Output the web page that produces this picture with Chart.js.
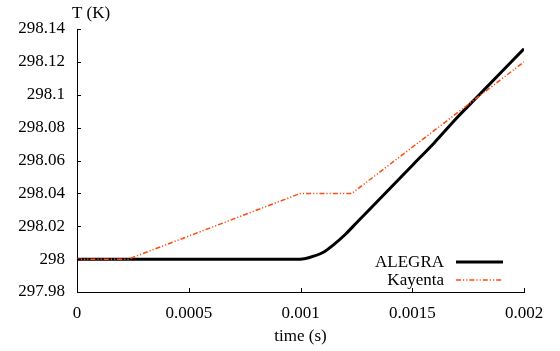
<!DOCTYPE html>
<html>
<head>
<meta charset="utf-8">
<script src="https://cdn.jsdelivr.net/npm/chart.js@4/dist/chart.umd.min.js"></script>
<style>
  html, body { margin: 0; padding: 0; background: #fff; }
  #wrap { width: 560px; height: 351px; position: relative; }
</style>
</head>
<body>
<div id="wrap"><canvas id="c" width="560" height="351"></canvas></div>
<script>
// Temperature history: ALEGRA vs Kayenta
const alegraTime = [0, 0.0005, 0.001, 0.00104, 0.0011, 0.00115, 0.0012, 0.00125, 0.0013, 0.0014, 0.0015, 0.0016, 0.0017, 0.0018, 0.0019, 0.002];
const alegraTemp = [298, 298, 298, 298.001, 298.004, 298.009, 298.015, 298.022, 298.029, 298.043, 298.057, 298.071, 298.086, 298.100, 298.114, 298.128];

const kayentaTime = [0, 0.00023, 0.001, 0.00123, 0.002];
const kayentaTemp = [298, 298, 298.04, 298.04, 298.12];

const xTickValues = [0, 0.0005, 0.001, 0.0015, 0.002];
const xTickLabels = ['0', '0.0005', '0.001', '0.0015', '0.002'];
const yTickValues = [297.98, 298, 298.02, 298.04, 298.06, 298.08, 298.1, 298.12, 298.14];
const yTickLabels = ['297.98', '298', '298.02', '298.04', '298.06', '298.08', '298.1', '298.12', '298.14'];

const FONT = 'Liberation Serif, Times New Roman, serif';
const KAYENTA_COLOR = '#ff4a10';
const KAYENTA_DASH = [5, 2, 1.2, 2, 1.2, 2];

const toPoints = (xs, ys) => xs.map((x, i) => ({ x, y: ys[i] }));

// Inward ticks, axis title on top and the legend in the lower right
const decorations = {
  id: 'decorations',
  afterDraw(chart) {
    const { ctx, chartArea: a, scales: { x, y } } = chart;
    ctx.save();
    ctx.strokeStyle = '#000';
    ctx.lineWidth = 1;
    ctx.beginPath();
    xTickValues.forEach(v => {
      const px = Math.round(x.getPixelForValue(v)) + 0.5;
      ctx.moveTo(px, a.bottom);
      ctx.lineTo(px, a.bottom - 4);
    });
    yTickValues.forEach(v => {
      const py = Math.round(y.getPixelForValue(v)) + 0.5;
      ctx.moveTo(a.left, py);
      ctx.lineTo(a.left + 4, py);
    });
    ctx.stroke();

    ctx.fillStyle = '#000';
    ctx.font = '17px ' + FONT;
    ctx.textBaseline = 'middle';
    ctx.textAlign = 'center';
    ctx.fillText('T (K)', a.left + 14, 14);

    // legend
    const entries = [
      { label: 'ALEGRA', color: '#000', width: 3, dash: [], y: 262 },
      { label: 'Kayenta', color: KAYENTA_COLOR, width: 1.5, dash: KAYENTA_DASH, y: 280 }
    ];
    entries.forEach(e => {
      ctx.textAlign = 'right';
      ctx.fillStyle = '#000';
      ctx.fillText(e.label, 444, e.y + 1);
      ctx.beginPath();
      ctx.setLineDash(e.dash);
      ctx.strokeStyle = e.color;
      ctx.lineWidth = e.width;
      ctx.moveTo(456, e.y);
      ctx.lineTo(503, e.y);
      ctx.stroke();
    });
    ctx.restore();
  }
};

new Chart(document.getElementById('c'), {
  type: 'line',
  data: {
    datasets: [
      {
        label: 'Kayenta',
        data: toPoints(kayentaTime, kayentaTemp),
        borderColor: KAYENTA_COLOR,
        borderWidth: 1.5,
        borderDash: KAYENTA_DASH,
        pointRadius: 0,
        tension: 0,
        order: 0
      },
      {
        label: 'ALEGRA',
        data: toPoints(alegraTime, alegraTemp),
        borderColor: '#000',
        borderWidth: 3,
        pointRadius: 0,
        cubicInterpolationMode: 'monotone',
        order: 1
      }
    ]
  },
  options: {
    responsive: false,
    animation: false,
    events: [],
    layout: { padding: { top: 29, right: 36, left: 0, bottom: 0 } },
    plugins: { legend: { display: false }, tooltip: { enabled: false } },
    scales: {
      x: {
        type: 'linear',
        min: 0,
        max: 0.002,
        afterBuildTicks: s => { s.ticks = xTickValues.map(v => ({ value: v })); },
        afterFit: s => { s.height = 59; },
        ticks: {
          callback: (v, i) => xTickLabels[i],
          color: '#000',
          font: { family: FONT, size: 17 },
          padding: 11,
          maxRotation: 0,
          autoSkip: false
        },
        grid: { display: false, drawTicks: false },
        border: { display: true, color: '#000', width: 1 },
        title: {
          display: true,
          text: 'time (s)',
          color: '#000',
          font: { family: FONT, size: 17 },
          padding: { top: 4 }
        }
      },
      y: {
        type: 'linear',
        min: 297.98,
        max: 298.14,
        afterBuildTicks: s => { s.ticks = yTickValues.map(v => ({ value: v })); },
        afterFit: s => { s.width = 77; },
        ticks: {
          callback: (v, i) => yTickLabels[i],
          color: '#000',
          font: { family: FONT, size: 17 },
          padding: 12,
          autoSkip: false
        },
        grid: { display: false, drawTicks: false },
        border: { display: true, color: '#000', width: 1 }
      }
    }
  },
  plugins: [decorations]
});
</script>
</body>
</html>
